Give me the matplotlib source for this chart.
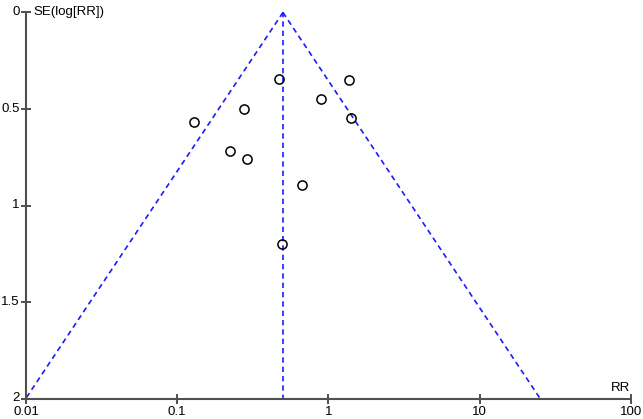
import numpy as np
import matplotlib
matplotlib.use("Agg")
import matplotlib.pyplot as plt
from matplotlib.transforms import ScaledTranslation

plt.rcParams['font.family'] = ['Liberation Sans', 'DejaVu Sans']

# study estimates
rr = [0.473, 1.377, 0.895, 0.278, 1.406, 0.130, 0.224, 0.288, 0.673, 0.495]
se = [0.345, 0.351, 0.447, 0.498, 0.548, 0.567, 0.718, 0.759, 0.895, 1.20]
pooled_rr = 0.50
se_max = 2.0

x_ticks = [0.01, 0.1, 1, 10, 100]
x_labels = ["0.01", "0.1", "1", "10", "100"]
y_ticks = [0, 0.5, 1, 1.5, 2]
y_labels = ["0", "0.5", "1", "1.5", "2"]

fig = plt.figure(figsize=(6.43, 4.19), dpi=100)
ax = fig.add_axes([0.0404, 0.0477, 0.9409, 0.9225])

# pseudo 95% confidence limits
se_line = np.array([0.0, se_max])
lo = np.exp(np.log(pooled_rr) - 1.96 * se_line)
hi = np.exp(np.log(pooled_rr) + 1.96 * se_line)
dash = dict(color='#1a1aff', linewidth=1.2, linestyle=(0, (3.2, 2.4)))
ax.plot(lo, se_line, **dash)
ax.plot(hi, se_line, **dash)
ax.plot([pooled_rr, pooled_rr], se_line, **dash)

ax.plot(rr, se, 'o', markersize=6.6, markerfacecolor='none',
        markeredgecolor='black', markeredgewidth=1.1, clip_on=False)

ax.set_xscale('log')
ax.set_xlim(0.01, 100)
ax.set_ylim(2, 0)
ax.set_xticks(x_ticks)
ax.set_xticklabels(x_labels)
ax.set_yticks(y_ticks)
ax.set_yticklabels(y_labels)
ax.minorticks_off()

for s in ['top', 'right']:
    ax.spines[s].set_visible(False)
for s in ['left', 'bottom']:
    ax.spines[s].set_color('#505050')
    ax.spines[s].set_linewidth(1.5)

ax.tick_params(direction='inout', length=7, width=1.2, color='#303030',
               labelsize=9.5)
ax.tick_params(axis='x', pad=1.5)
ax.tick_params(axis='y', pad=1)

# nudge y tick labels a little up, as in the reference
for lab in ax.get_yticklabels():
    lab.set_transform(lab.get_transform() +
                      ScaledTranslation(0, 1.5 / 72, fig.dpi_scale_trans))

ax.text(0.012, 1.0, "SE(log[RR])", transform=ax.transAxes, fontsize=9.5,
        ha='left', va='center')
ax.text(0.998, 0.012, "RR", transform=ax.transAxes, fontsize=9.5,
        ha='right', va='bottom')

fig.savefig("out.png", dpi=100)
